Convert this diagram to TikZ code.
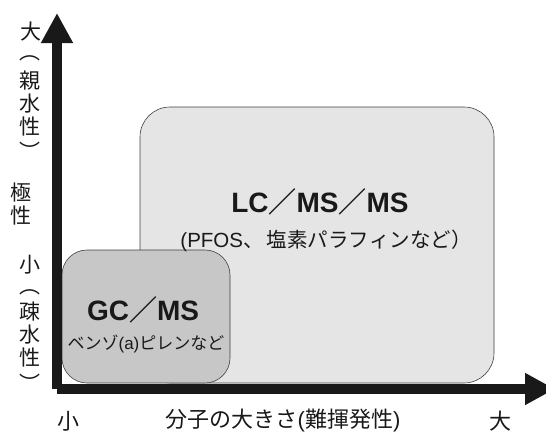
\documentclass[tikz,border=0pt]{standalone}
\usepackage{fontspec}
\setmainfont{Noto Sans CJK JP}
\newfontfamily\hv{Liberation Sans}
\newfontfamily\cjkb{Noto Sans CJK JP Bold}
\usetikzlibrary{arrows.meta}
\tikzset{
  axis/.style={line width=10pt, draw=black!90, -{Triangle[length=30pt,width=30pt]}},
  bigbox/.style={draw=black!75, line width=0.6pt, rounded corners=30pt, fill=black!10},
  smallbox/.style={draw=black!75, line width=0.6pt, rounded corners=25pt, fill=black!22},
  lbl/.style={font=\fontsize{21pt}{23pt}\selectfont, inner sep=0pt, text=black!90},
  vlbl/.style={lbl, align=center},
  xl/.style={font=\fontsize{22pt}{24pt}\selectfont, inner sep=0pt, text=black!90},
  title/.style={font=\hv\bfseries\fontsize{28pt}{30pt}\selectfont, inner sep=0pt, text=black!90},
  sub/.style={font=\fontsize{20.5pt}{23pt}\selectfont, inner sep=0pt, text=black!90},
  subs/.style={font=\fontsize{17pt}{20pt}\selectfont, inner sep=0pt, text=black!90},
}
\newcommand{\wsl}{{\cjkb ／}}
\begin{document}
\begin{tikzpicture}[x=1pt,y=-1pt]
\useasboundingbox (0,0) rectangle (546,434);
% boxes
\path[bigbox] (140,107) rectangle (494,383);
\path[smallbox] (62,250) rectangle (230,383);
% axes
\coordinate (o1) at (57,389);
\coordinate (ytip) at (57,13);
\coordinate (o2) at (57,389);
\coordinate (xtip) at (555,389);
\draw[axis] (o1) -- (ytip);
\draw[axis] (o2) -- (xtip);
% box texts
\node[title] (lc) at (320,202) {LC\wsl MS\wsl MS};
\node[sub] (lcs) at (326,241) {{\hv (PFOS}、\,塩素パラフィンなど）};
\node[title] (gc) at (143,310) {GC\wsl MS};
\node[subs] (gcs) at (146,344) {ベンゾ{\hv (a)}ピレンなど};
% y labels
\node[lbl] (ybig) at (31,32) {大};
\node[lbl] (p1) at (30,58) {︵};
\node[vlbl] (yhi) at (30,104) {親\\水\\性};
\node[lbl] (p2) at (30,151) {︶};
\node[vlbl] (ypol) at (21,204) {極\\性};
\node[lbl] (ysmall) at (30,265) {小};
\node[lbl] (p3) at (30,292) {︵};
\node[vlbl] (ylo) at (30,335) {疎\\水\\性};
\node[lbl] (p4) at (30,383) {︶};
% x labels
\node[xl] (xsmall) at (68,421) {小};
\node[xl] (xlab) at (283,421) {分子の大きさ{\hv (}難揮発性{\hv )}};
\node[xl] (xbig) at (500,421) {大};
\end{tikzpicture}
\end{document}
